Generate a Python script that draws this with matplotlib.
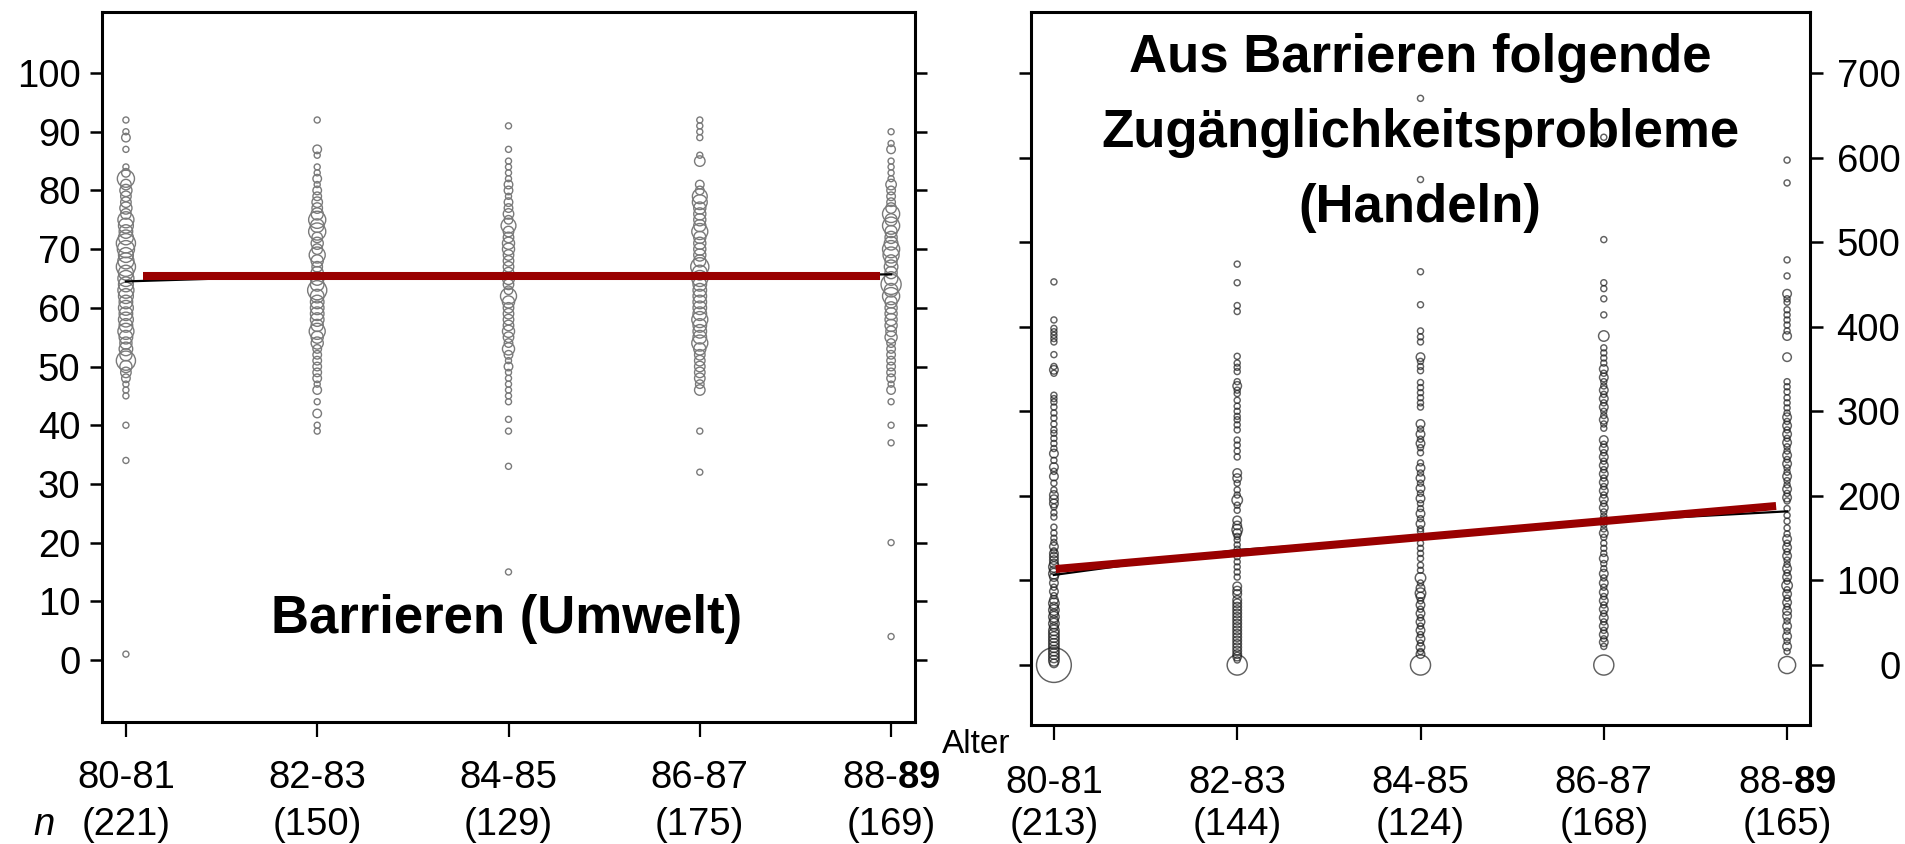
import matplotlib
matplotlib.use("Agg")
import matplotlib.pyplot as plt
import matplotlib.transforms as mtransforms
from matplotlib import font_manager as fm
import numpy as np

# ---------------- data ----------------
age_labels = ["80-81", "82-83", "84-85", "86-87", r"88-$\mathbf{89}$"]
n_left = [221, 150, 129, 175, 169]
n_right = [213, 144, 124, 168, 165]

# left panel: Barrieren (Umwelt) -- value / frequency per age group
L0_vals = [92, 90, 89, 87, 84, 83, 82, 81, 80, 79, 78, 77, 76, 75, 74, 73, 72, 71, 70, 69, 68, 67, 66, 65, 64, 63, 62, 61, 60, 59, 58, 57, 56, 55, 54, 53, 52, 51, 50, 49, 48, 47, 46, 45, 40, 34, 1]
L0_cnts = [1, 1, 2, 1, 1, 2, 8, 3, 4, 3, 3, 4, 3, 7, 6, 5, 6, 10, 8, 6, 7, 10, 6, 7, 6, 7, 6, 5, 6, 5, 6, 5, 7, 5, 4, 5, 4, 10, 4, 3, 2, 1, 1, 1, 1, 1, 1]
L1_vals = [92, 87, 86, 84, 83, 82, 81, 80, 79, 78, 77, 76, 75, 74, 73, 72, 71, 70, 69, 68, 67, 66, 65, 64, 63, 62, 61, 60, 59, 58, 57, 56, 55, 54, 53, 52, 51, 50, 49, 48, 47, 46, 44, 42, 40, 39]
L1_cnts = [1, 2, 1, 1, 1, 2, 1, 2, 2, 3, 3, 4, 8, 5, 8, 3, 4, 3, 7, 4, 3, 4, 5, 5, 10, 5, 5, 5, 5, 5, 4, 7, 4, 4, 2, 2, 2, 2, 2, 2, 1, 2, 1, 2, 1, 1]
L2_vals = [91, 87, 85, 84, 83, 82, 81, 80, 79, 78, 77, 76, 75, 74, 73, 72, 71, 70, 69, 68, 67, 66, 65, 64, 63, 62, 61, 60, 59, 58, 57, 56, 55, 54, 53, 52, 51, 50, 49, 48, 47, 46, 45, 44, 41, 39, 33, 15]
L2_cnts = [1, 1, 1, 1, 1, 1, 2, 2, 1, 2, 2, 3, 2, 6, 3, 3, 4, 4, 3, 3, 3, 3, 4, 3, 2, 7, 4, 3, 3, 3, 3, 4, 3, 2, 4, 2, 1, 2, 1, 1, 1, 1, 1, 1, 1, 1, 1, 1]
L3_vals = [92, 91, 90, 89, 86, 85, 81, 80, 79, 78, 77, 76, 75, 74, 73, 72, 71, 70, 69, 68, 67, 66, 65, 64, 63, 62, 61, 60, 59, 58, 57, 56, 55, 54, 53, 52, 51, 50, 49, 48, 47, 46, 39, 32]
L3_cnts = [1, 1, 1, 1, 1, 3, 2, 2, 6, 6, 4, 4, 4, 4, 7, 4, 4, 4, 4, 4, 9, 6, 7, 5, 5, 5, 5, 5, 5, 7, 5, 5, 5, 7, 4, 3, 3, 3, 3, 3, 2, 3, 1, 1]
L4_vals = [90, 88, 87, 85, 84, 83, 82, 81, 80, 79, 78, 77, 76, 75, 74, 73, 72, 71, 70, 69, 68, 67, 66, 65, 64, 63, 62, 61, 60, 59, 58, 57, 56, 55, 54, 53, 52, 51, 50, 49, 48, 47, 46, 44, 40, 37, 20, 4]
L4_cnts = [1, 1, 2, 1, 1, 1, 1, 3, 2, 2, 2, 3, 8, 4, 8, 4, 4, 5, 8, 7, 4, 5, 4, 5, 11, 5, 8, 4, 4, 4, 4, 4, 3, 4, 2, 2, 2, 2, 2, 2, 2, 1, 2, 1, 1, 1, 1, 1]

# right panel: Aus Barrieren folgende Zugaenglichkeitsprobleme (Handeln)
R0_vals = [0, 2, 5, 9, 13, 17, 21, 25, 29, 33, 37, 41, 45, 49, 53, 57, 61, 65, 69, 73, 77, 82, 87, 92, 97, 104, 108, 112, 116, 120, 124, 128, 132, 135, 140, 145, 150, 156, 163, 175, 180, 187, 191, 196, 201, 207, 215, 223, 229, 234, 242, 250, 256, 262, 268, 274, 278, 285, 292, 298, 305, 311, 315, 319, 345, 349, 353, 367, 382, 386, 390, 394, 398, 408, 453]
R0_cnts = [33, 2, 3, 3, 3, 3, 3, 3, 3, 3, 3, 3, 2, 3, 2, 3, 2, 3, 2, 3, 2, 1, 2, 1, 2, 2, 3, 2, 3, 2, 2, 2, 2, 1, 2, 1, 1, 1, 1, 1, 1, 1, 2, 2, 2, 1, 1, 2, 1, 2, 1, 2, 1, 1, 1, 1, 1, 1, 1, 1, 1, 1, 1, 1, 1, 2, 1, 1, 1, 1, 1, 1, 1, 1, 1]
R1_vals = [0, 6, 10, 13, 17, 21, 25, 29, 33, 37, 41, 45, 49, 53, 57, 61, 65, 69, 73, 77, 84, 88, 93, 104, 110, 116, 122, 128, 132, 137, 142, 148, 152, 156, 160, 165, 171, 183, 189, 195, 201, 207, 215, 221, 227, 246, 253, 260, 266, 278, 284, 290, 294, 300, 306, 313, 321, 325, 330, 335, 347, 352, 357, 365, 418, 425, 452, 474]
R1_cnts = [11, 1, 2, 2, 2, 2, 2, 2, 2, 2, 2, 2, 2, 2, 2, 2, 2, 2, 2, 2, 2, 2, 2, 1, 1, 1, 1, 1, 1, 1, 1, 1, 1, 2, 3, 2, 2, 1, 1, 3, 1, 1, 1, 2, 2, 1, 1, 1, 1, 1, 1, 1, 1, 1, 1, 1, 1, 1, 2, 1, 1, 1, 1, 1, 1, 1, 1, 1]
R2_vals = [0, 13, 16, 21, 26, 31, 36, 41, 46, 51, 56, 61, 66, 71, 76, 81, 85, 91, 97, 103, 112, 118, 126, 132, 138, 144, 158, 161, 167, 173, 179, 185, 191, 197, 203, 209, 215, 221, 227, 233, 239, 251, 257, 262, 267, 273, 279, 285, 305, 310, 316, 322, 328, 334, 348, 353, 359, 364, 382, 388, 395, 426, 465, 536, 574, 670]
R2_cnts = [11, 2, 1, 2, 1, 2, 1, 2, 1, 2, 1, 2, 1, 2, 1, 2, 3, 2, 1, 3, 1, 1, 1, 1, 1, 1, 1, 1, 2, 1, 2, 1, 1, 2, 1, 2, 1, 2, 1, 2, 1, 1, 1, 2, 1, 2, 1, 2, 1, 1, 1, 1, 1, 1, 1, 1, 1, 2, 1, 1, 1, 1, 1, 1, 1, 1]
R3_vals = [0, 22, 27, 31, 36, 41, 46, 51, 56, 61, 66, 71, 76, 81, 86, 92, 97, 103, 108, 114, 120, 126, 132, 138, 144, 151, 156, 161, 166, 171, 176, 181, 186, 191, 196, 201, 206, 211, 216, 221, 226, 231, 236, 241, 246, 251, 256, 261, 266, 280, 285, 290, 295, 300, 305, 310, 315, 320, 325, 330, 335, 340, 345, 350, 357, 363, 369, 375, 389, 414, 433, 445, 452, 503, 624]
R3_cnts = [11, 1, 2, 1, 2, 1, 2, 1, 2, 1, 2, 1, 2, 1, 2, 1, 2, 1, 2, 1, 1, 2, 1, 1, 1, 1, 2, 1, 1, 2, 1, 1, 2, 1, 2, 1, 2, 1, 2, 1, 2, 1, 2, 1, 2, 1, 2, 1, 2, 1, 1, 2, 1, 1, 2, 1, 2, 1, 2, 1, 1, 2, 1, 2, 1, 1, 1, 1, 3, 1, 1, 1, 1, 1, 1]
R4_vals = [0, 16, 22, 28, 34, 40, 46, 52, 58, 64, 69, 74, 79, 84, 89, 94, 99, 104, 109, 114, 119, 124, 129, 134, 139, 144, 149, 155, 162, 170, 177, 185, 194, 198, 203, 208, 213, 218, 223, 228, 233, 238, 243, 248, 253, 258, 263, 268, 273, 278, 283, 288, 293, 298, 304, 310, 316, 323, 329, 335, 364, 389, 395, 402, 408, 414, 420, 429, 433, 439, 460, 479, 570, 597]
R4_cnts = [8, 1, 2, 1, 2, 1, 2, 1, 2, 2, 1, 2, 1, 2, 1, 3, 1, 2, 1, 2, 1, 1, 2, 1, 2, 1, 2, 1, 1, 1, 1, 1, 1, 2, 1, 2, 1, 1, 2, 1, 1, 2, 1, 2, 1, 1, 2, 1, 2, 1, 2, 1, 2, 1, 1, 1, 1, 1, 1, 1, 2, 2, 1, 1, 1, 1, 1, 1, 1, 2, 1, 1, 1, 1]

# group mean line (black) and linear trend (red)
left_mean = [64.5, 65.5, 65.5, 65.5, 65.7]
left_fit_x = [0.09, 3.94]
left_fit_y = [65.4, 65.4]
right_mean = [106.5, 136, 151, 170, 181.7]
right_fit_x = [0.01, 3.94]
right_fit_y = [113.5, 188.0]

left_yticks = list(range(0, 101, 10))
right_yticks = list(range(0, 701, 100))

# ---------------- fonts ----------------
names = {f.name for f in fm.fontManager.ttflist}
SANS = "Liberation Sans" if "Liberation Sans" in names else "DejaVu Sans"
if "Liberation Sans Narrow" in names:
    NARROW, TSIZE = "Liberation Sans Narrow", 46
else:
    NARROW, TSIZE = SANS, 38
plt.rcParams["font.family"] = [SANS, "DejaVu Sans"]
plt.rcParams["mathtext.fontset"] = "custom"
plt.rcParams["mathtext.rm"] = SANS
plt.rcParams["mathtext.bf"] = SANS + ":bold"
plt.rcParams["mathtext.it"] = SANS + ":italic"

W, H = 1905, 844
fig = plt.figure(figsize=(W / 100, H / 100), dpi=100)

def fx(px):
    return px / W

def fy(py):
    return 1 - py / H

axL = fig.add_axes([fx(102), fy(722), fx(915 - 102), (722 - 12) / H])
axR = fig.add_axes([fx(1031), fy(725), fx(1810 - 1031), (725 - 12) / H])

S1 = 19  # marker area (pt^2) per case
TICKFS = 27.5

def style(ax):
    for sp in ax.spines.values():
        sp.set_linewidth(2.2)
        sp.set_color("black")
    ax.set_xlim(-0.125, 4.125)
    ax.set_xticks(range(5))
    ax.set_xticklabels([])
    ax.tick_params(axis="x", direction="out", length=11, width=1.6, color="black")

# left panel
left_sets = [(L0_vals, L0_cnts), (L1_vals, L1_cnts), (L2_vals, L2_cnts), (L3_vals, L3_cnts), (L4_vals, L4_cnts)]
for i, (v, c) in enumerate(left_sets):
    axL.scatter(np.full(len(v), i), v, s=np.array(c) * S1, facecolors="none",
                edgecolors="#7a7a7a", linewidths=1.0, zorder=2)
axL.plot(range(5), left_mean, color="black", lw=1.6, zorder=3)
axL.plot(left_fit_x, left_fit_y, color="#990000", lw=5.8, solid_capstyle="butt", zorder=4)
style(axL)
axL.set_ylim(-10.56, 110.4)
axL.set_yticks(left_yticks)
axL.set_yticklabels([str(t) for t in left_yticks], fontsize=TICKFS)
axL.tick_params(axis="y", left=True, right=True, labelleft=True, labelright=False,
                direction="out", length=8.5, width=1.8, pad=7)

# right panel
right_sets = [(R0_vals, R0_cnts), (R1_vals, R1_cnts), (R2_vals, R2_cnts), (R3_vals, R3_cnts), (R4_vals, R4_cnts)]
for i, (v, c) in enumerate(right_sets):
    axR.scatter(np.full(len(v), i), v, s=np.array(c) * S1, facecolors="none",
                edgecolors="#1e1e1e", alpha=0.7, linewidths=1.05, zorder=2)
axR.plot(range(5), right_mean, color="black", lw=1.6, zorder=3)
axR.plot(right_fit_x, right_fit_y, color="#990000", lw=5.8, solid_capstyle="butt", zorder=4)
style(axR)
axR.set_ylim(-70.9, 772.1)
axR.set_yticks(right_yticks)
axR.set_yticklabels([str(t) for t in right_yticks], fontsize=TICKFS)
axR.tick_params(axis="y", left=True, right=True, labelleft=False, labelright=True,
                direction="out", length=9, width=1.8, pad=56)
for lab in axR.get_yticklabels():
    lab.set_horizontalalignment("right")

# x labels (age group + n)
for ax, ns, base1 in ((axL, n_left, 788), (axR, n_right, 793)):
    tr = mtransforms.blended_transform_factory(ax.transData, fig.transFigure)
    for i in range(5):
        ax.text(i, fy(base1), age_labels[i], transform=tr, ha="center", va="baseline",
                fontsize=TICKFS)
        ax.text(i, fy(835), "(%d)" % ns[i], transform=tr, ha="center", va="baseline",
                fontsize=TICKFS)

fig.text(fx(44), fy(835), "n", ha="center", va="baseline", fontsize=TICKFS, style="italic")
fig.text(fx(942), fy(753), "Alter", ha="left", va="baseline", fontsize=24)

# titles
fig.text(fx(507), fy(633), "Barrieren (Umwelt)", ha="center", va="baseline",
         fontsize=TSIZE, fontweight="bold", family=NARROW, zorder=10)
for txt, base in (("Aus Barrieren folgende", 72), ("Zugänglichkeitsprobleme", 147), ("(Handeln)", 222)):
    fig.text(fx(1420), fy(base), txt, ha="center", va="baseline",
             fontsize=TSIZE, fontweight="bold", family=NARROW, zorder=10)

fig.savefig("out.png", dpi=100)
